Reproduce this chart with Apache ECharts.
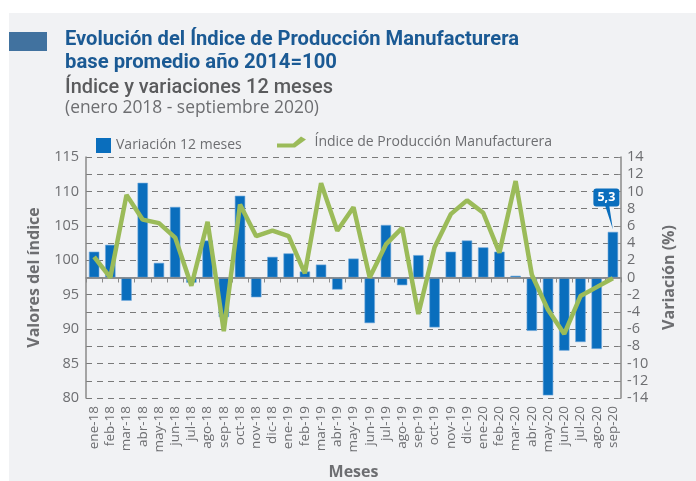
<!DOCTYPE html>
<html><head><meta charset="utf-8">
<script src="https://cdn.jsdelivr.net/npm/echarts@6/dist/echarts.min.js"></script>
<style>html,body{margin:0;padding:0;background:#fff}#c{width:696px;height:481px}</style>
</head><body><div id="c"></div>
<script>
var categories = ['ene-18','feb-18','mar-18','abr-18','may-18','jun-18','jul-18','ago-18','sep-18','oct-18','nov-18','dic-18',
  'ene-19','feb-19','mar-19','abr-19','may-19','jun-19','jul-19','ago-19','sep-19','oct-19','nov-19','dic-19',
  'ene-20','feb-20','mar-20','abr-20','may-20','jun-20','jul-20','ago-20','sep-20'];
var variacion = [3.0, 3.8, -2.7, 11.0, 1.7, 8.2, -0.6, 4.3, -4.6, 9.5, -2.3, 2.4,
  2.8, 0.7, 1.5, -1.4, 2.2, -5.3, 6.1, -0.9, 2.6, -5.8, 3.0, 4.3,
  3.5, 3.0, 0.2, -6.2, -13.7, -8.5, -7.5, -8.3, 5.3];
var indice = [100.5, 97.5, 109.5, 105.9, 105.4, 103.3, 96.3, 105.6, 89.7, 108.1, 103.5, 104.3,
  103.5, 98.1, 111.2, 104.3, 107.7, 97.5, 102.3, 104.7, 92.2, 101.9, 106.7, 108.7,
  106.9, 101.1, 111.5, 97.9, 92.8, 89.3, 94.8, 96.1, 97.4];
var leftTicks = {min: 80, max: 115, interval: 5};
var rightTicks = {min: -14, max: 14, interval: 2};
var calloutIndex = 32;
var calloutText = '5,3';
var titleLines = ['Evolución del Índice de Producción Manufacturera', 'base promedio año 2014=100',
  'Índice y variaciones 12 meses', '(enero 2018 - septiembre 2020)'];

var gray = '#6d6e71';
var mctx = document.createElement('canvas').getContext('2d');
function fitText(text, font, x, y, targetW, fill) {
  mctx.font = font;
  var w = mctx.measureText(text).width;
  return {type: 'text', x: x, y: y, scaleX: targetW / w, originX: 0,
    style: {text: text, font: font, fill: fill, verticalAlign: 'top'}};
}
var chart = echarts.init(document.getElementById('c'), null, {renderer: 'canvas'});
chart.setOption({
  backgroundColor: '#ffffff',
  animation: false,
  graphic: [
    {type: 'rect', shape: {x: 9, y: 13, width: 687, height: 468}, style: {fill: '#f1f2f4'}, z: -10},
    {type: 'rect', shape: {x: 9, y: 32, width: 38, height: 19}, style: {fill: '#41729f'}},
    fitText(titleLines[0], 'bold 21px Roboto', 65, 29, 454, '#1b5a94'),
    fitText(titleLines[1], 'bold 21px Roboto', 65, 52, 272, '#1b5a94'),
    fitText(titleLines[2], '500 20px Roboto', 65, 78, 268, '#5a5b5d'),
    fitText(titleLines[3], '17.5px "Open Sans"', 65, 99, 254, gray)
  ],
  legend: [
    {left: 91, top: 133, icon: 'rect', itemWidth: 15, itemHeight: 15, itemGap: 0, data: ['Variación 12 meses'],
     itemStyle: {borderWidth: 0},
     textStyle: {color: gray, fontSize: 14, fontFamily: 'Open Sans', padding: [0, 0, 0, 0]}},
    {left: 272, top: 130, itemWidth: 30, itemHeight: 11, data: [{name: 'Índice de Producción Manufacturera',
      icon: 'path://M1,7 L17,7 L25,0 L30,3 L19,11 L1,11 Z'}],
     textStyle: {color: gray, fontSize: 14, fontFamily: 'Open Sans', padding: [0, 0, 0, 3]}}
  ],
  grid: {left: 86, right: 75, top: 157, bottom: 83, containLabel: false, outerBoundsMode: 'none'},
  xAxis: {
    type: 'category', data: categories, boundaryGap: true,
    axisLine: {lineStyle: {color: '#8a8a8a', width: 1.5}},
    axisTick: {show: true, length: 5, lineStyle: {color: '#8a8a8a'}},
    axisLabel: {rotate: 90, interval: 0, color: gray, fontSize: 13.5, fontFamily: 'Open Sans', margin: 8},
    name: 'Meses', nameLocation: 'middle', nameGap: 66,
    nameTextStyle: {color: gray, fontSize: 16, fontWeight: 'bold', fontFamily: 'Open Sans'}
  },
  yAxis: [
    {type: 'value', min: leftTicks.min, max: leftTicks.max, interval: leftTicks.interval, position: 'left',
     axisLine: {show: true, lineStyle: {color: '#8a8a8a', width: 1.5}}, axisTick: {show: false},
     splitLine: {show: false},
     axisLabel: {color: gray, fontSize: 14.5, fontFamily: 'Open Sans', margin: 7},
     name: 'Valores del índice', nameLocation: 'middle', nameGap: 44, nameRotate: 90,
     nameTextStyle: {color: gray, fontSize: 16, fontWeight: 'bold', fontFamily: 'Open Sans'}},
    {type: 'value', min: rightTicks.min, max: rightTicks.max, interval: rightTicks.interval, position: 'right',
     axisLine: {show: true, lineStyle: {color: '#8a8a8a', width: 1.5}}, axisTick: {show: true, length: 3, inside: true, lineStyle: {color: '#8a8a8a'}},
     splitLine: {show: true, lineStyle: {color: '#7a7a7a', type: [6, 5], width: 1}},
     axisLabel: {color: gray, fontSize: 14.5, fontFamily: 'Open Sans', margin: 6},
     name: 'Variación (%)', nameLocation: 'middle', nameGap: 40, nameRotate: 90,
     nameTextStyle: {color: gray, fontSize: 16, fontWeight: 'bold', fontFamily: 'Open Sans'}}
  ],
  series: [
    {name: 'Variación 12 meses', type: 'bar', yAxisIndex: 1, data: variacion, barWidth: '64%',
     itemStyle: {color: '#0a6ebd', borderColor: '#6fa8dc', borderWidth: 0.6},
     z: 2,
     markLine: {silent: true, symbol: 'none', label: {show: false}, lineStyle: {color: '#8a8a8a', type: 'solid', width: 1.5},
       data: [{yAxis: 0}]},
     markPoint: {
       symbol: 'path://M3,0 L23,0 Q26,0 26,3 L26,15 Q26,18 23,18 L16,18 L19.5,41 L12,18 L3,18 Q0,18 0,15 L0,3 Q0,0 3,0 Z',
       symbolSize: [26, 41], symbolOffset: [-6.5, -23], symbolKeepAspect: false,
       itemStyle: {color: '#0a6ebd', borderWidth: 0},
       label: {show: true, formatter: calloutText, color: '#fff', fontWeight: 'bold', fontSize: 12.5, fontFamily: 'Open Sans', offset: [0, -11.5]},
       data: [{coord: [calloutIndex, variacion[calloutIndex]]}]
     }},
    {name: 'Índice de Producción Manufacturera', type: 'line', yAxisIndex: 0, data: indice,
     symbol: 'none', lineStyle: {color: '#9bbb59', width: 4.5}, itemStyle: {color: '#9bbb59'}, z: 5}
  ]
});
</script></body></html>
